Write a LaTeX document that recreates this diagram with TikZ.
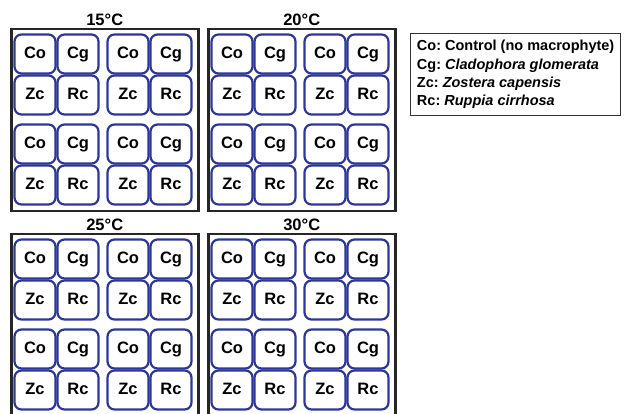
\documentclass[tikz,border=0pt]{standalone}
\usepackage{fontspec}
\setmainfont{Liberation Sans}
\usetikzlibrary{positioning}
\definecolor{cellblue}{RGB}{45,55,155}
\frenchspacing

\begin{document}
\begin{tikzpicture}[
                x=1pt, y=-1pt,
                font=\bfseries,
                tank/.style={draw=black!85, line width=2.5pt, minimum width=187pt, minimum height=182pt, inner sep=0pt, anchor=north west},
                cell/.style={draw=cellblue, line width=2.2pt, rounded corners=7pt, minimum width=41pt, minimum height=39pt, inner sep=0pt, text height=12pt, text depth=3.5pt, font=\fontsize{16.5}{16.5}\selectfont\bfseries},
                temp/.style={inner sep=0pt, font=\fontsize{16.5}{16.5}\selectfont\bfseries},
                key/.style={draw=black!80, line width=1.3pt, align=left, anchor=north west, inner xsep=5pt, inner ysep=4pt, minimum width=210pt, minimum height=82pt, font=\fontsize{14.5}{18.3}\selectfont\bfseries}
            ]
                \useasboundingbox (0,0) rectangle (624,414);
                % four tanks, one per temperature
                \foreach \t/\px/\py in {15/10/28, 20/207/28, 25/10/233, 30/207/233} {
                    \node[tank] (tank\t) at (\px,\py) {};
                    \node[temp, above=2pt of tank\t] (title\t) {\t°C};
                    \foreach \cy/\la/\lb [count=\j] in {26/Co/Cg, 67/Zc/Rc, 116/Co/Cg, 157/Zc/Rc} {
                        \foreach \cx/\dx [count=\i] in {25/68, 118/161} {
                            \node[cell] (c\t-\j-\i a) at (\px+\cx,\py+\cy) {\la};
                            \node[cell] (c\t-\j-\i b) at (\px+\dx,\py+\cy) {\lb};
                        }
                    }
                }
                \node[key] (legend) at (410,33) {Co: Control (no macrophyte)\\
                    Cg: \textit{Cladophora glomerata}\\
                    Zc: \textit{Zostera capensis}\\
                    Rc: \textit{Ruppia cirrhosa}};
            \end{tikzpicture}
\end{document}
